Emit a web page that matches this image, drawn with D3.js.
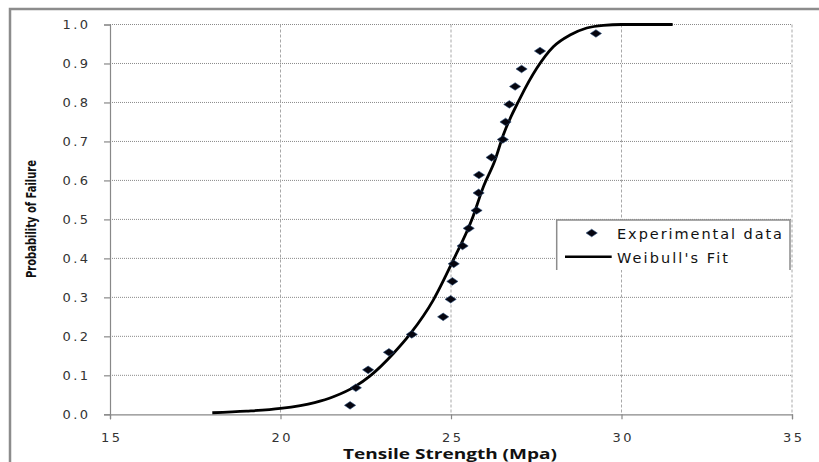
<!DOCTYPE html>
<html>
<head>
<meta charset="utf-8">
<script src="https://cdn.jsdelivr.net/npm/d3@7/dist/d3.min.js"></script>
<style>
  html, body { margin: 0; padding: 0; background: #fff; overflow: hidden; }
  svg { display: block; }
</style>
</head>
<body>
<script>
// experimental points (median ranks)
const strength = [22.04, 22.21, 22.57, 23.18, 23.85, 24.77, 24.99, 25.04, 25.08, 25.34, 25.52,
                  25.75, 25.81, 25.82, 26.19, 26.52, 26.60, 26.71, 26.88, 27.07, 27.61, 29.25];
const probability = [0.023, 0.068, 0.114, 0.159, 0.205, 0.250, 0.295, 0.341, 0.386, 0.432, 0.477,
                     0.523, 0.568, 0.614, 0.659, 0.705, 0.750, 0.795, 0.841, 0.886, 0.932, 0.977];

// Weibull fit curve
const fitStrength = [18.0, 19.0, 20.0, 21.0, 21.55, 22.18, 22.62, 23.31, 23.82, 24.48, 25.07, 25.61,
                     25.95, 26.29, 26.53, 27.02, 27.51, 28.0, 28.49, 28.98, 29.47, 30.0, 31.5];
const fitProbability = [0.004, 0.008, 0.015, 0.030, 0.045, 0.071, 0.098, 0.156, 0.208, 0.293, 0.396, 0.499,
                        0.584, 0.652, 0.716, 0.810, 0.887, 0.943, 0.973, 0.991, 0.998, 1.0, 1.0];

const xTicks = [15, 20, 25, 30, 35];
const yTicks = [0, 0.1, 0.2, 0.3, 0.4, 0.5, 0.6, 0.7, 0.8, 0.9, 1.0];
const seriesNames = ["Experimental data", "Weibull's Fit"];

const W = 819, H = 462;
const LEFT = 110, RIGHT = 792, TOP = 24.5, BOTTOM = 414.3;
const TICK_FONT = "'DejaVu Sans', Verdana, sans-serif";

const svg = d3.select("body").append("svg").attr("width", W).attr("height", H);

// outer chart frame (runs off the right and bottom edges)
svg.append("rect").attr("x", 10).attr("y", 9).attr("width", 1000).attr("height", 800)
  .attr("fill", "none").attr("stroke", "#8c8c8c").attr("stroke-width", 2.5);

const x = d3.scaleLinear().domain([15, 35]).range([LEFT, RIGHT]);
const y = d3.scaleLinear().domain([0, 1]).range([BOTTOM, TOP]);

// gridlines
svg.append("g").attr("class", "hgrid")
  .selectAll("line").data(yTicks.filter(d => d > 0)).join("line")
  .attr("x1", LEFT).attr("x2", RIGHT).attr("y1", d => y(d)).attr("y2", d => y(d))
  .attr("stroke", "#8a8a8a").attr("stroke-width", 1).attr("stroke-dasharray", "1,1");
svg.append("g").attr("class", "vgrid")
  .selectAll("line").data(xTicks.filter(d => d > 15)).join("line")
  .attr("x1", d => x(d)).attr("x2", d => x(d)).attr("y1", TOP).attr("y2", BOTTOM)
  .attr("stroke", "#a8a8a8").attr("stroke-width", 1).attr("stroke-dasharray", "3,2");

// axes
const yAxis = svg.append("g").attr("transform", `translate(${LEFT},0)`)
  .call(d3.axisLeft(y).tickValues(yTicks).tickSize(6).tickPadding(16).tickFormat(d3.format(".1f")));
const xAxis = svg.append("g").attr("transform", `translate(0,${BOTTOM})`)
  .call(d3.axisBottom(x).tickValues(xTicks).tickSize(5).tickPadding(13).tickFormat(d3.format("d")));

[xAxis, yAxis].forEach(a => {
  a.select(".domain").attr("stroke", "#888").attr("stroke-width", 1.2);
  a.selectAll(".tick line").attr("stroke", "#888").attr("stroke-width", 1.2);
  a.selectAll(".tick text").attr("fill", "#333").attr("font-family", TICK_FONT)
    .attr("font-size", 13).attr("lengthAdjust", "spacing");
});
yAxis.selectAll(".tick text").attr("textLength", 25.5);
xAxis.selectAll(".tick text").attr("textLength", 19).attr("dy", "0.71em");

// Weibull fit line
const line = d3.line().x(d => x(d[0])).y(d => y(d[1])).curve(d3.curveMonotoneX);
svg.append("path").datum(fitStrength.map((s, i) => [s, fitProbability[i]]))
  .attr("d", line).attr("fill", "none").attr("stroke", "#000").attr("stroke-width", 2.8);

// diamond markers
const diamond = "M0,-3.8L5.6,0L0,3.8L-5.6,0Z";
svg.append("g").selectAll("path").data(strength.map((s, i) => [s, probability[i]])).join("path")
  .attr("d", diamond)
  .attr("transform", d => `translate(${x(d[0])},${y(d[1])})`)
  .attr("fill", "#05050f").attr("stroke", "#2a4d7a").attr("stroke-width", 0.6);

// legend
const lg = svg.append("g");
lg.append("rect").attr("x", 556.7).attr("y", 220).attr("width", 233.3).attr("height", 50).attr("fill", "#fff");
lg.append("path").attr("d", "M556.7,270V220H790V270").attr("fill", "none")
  .attr("stroke", "#8c8c8c").attr("stroke-width", 1.5);
lg.append("path").attr("d", diamond).attr("transform", "translate(591.7,233)")
  .attr("fill", "#05050f").attr("stroke", "#2a4d7a").attr("stroke-width", 0.6);
lg.append("line").attr("x1", 565).attr("x2", 611.7).attr("y1", 256.7).attr("y2", 256.7)
  .attr("stroke", "#000").attr("stroke-width", 2.5);
lg.selectAll("text").data(seriesNames).join("text")
  .attr("x", 617).attr("y", (d, i) => i === 0 ? 238.5 : 263)
  .attr("font-family", TICK_FONT).attr("font-size", 14.5).attr("fill", "#111")
  .attr("textLength", (d, i) => i === 0 ? 165 : 111).attr("lengthAdjust", "spacing")
  .text(d => d);

// axis titles
svg.append("text").attr("x", 450).attr("y", 459)
  .attr("text-anchor", "middle").attr("font-family", "'Open Sans', sans-serif")
  .attr("font-weight", "bold").attr("font-size", 13.5).attr("fill", "#111")
  .attr("textLength", 214).attr("lengthAdjust", "spacingAndGlyphs")
  .text("Tensile Strength (Mpa)");
svg.append("text").attr("transform", "translate(36,219) rotate(-90)")
  .attr("text-anchor", "middle").attr("font-family", "'Liberation Sans Narrow', 'DejaVu Sans Condensed', sans-serif")
  .attr("font-weight", "bold").attr("font-size", 13.5).attr("fill", "#111")
  .attr("textLength", 118).attr("lengthAdjust", "spacingAndGlyphs")
  .text("Probability of Failure");
</script>
</body>
</html>
